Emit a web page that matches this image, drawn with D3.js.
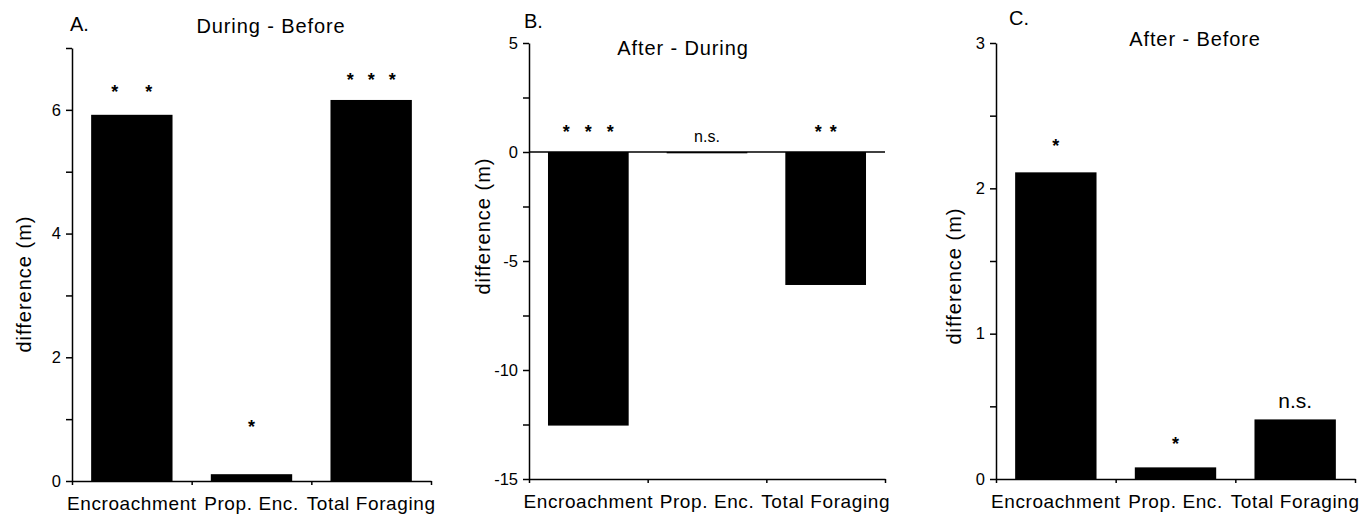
<!DOCTYPE html>
<html>
<head>
<meta charset="utf-8">
<script src="https://cdn.jsdelivr.net/npm/d3@7"></script>
<style>
  body { margin: 0; background: #fff; }
  svg { display: block; font-family: "Liberation Sans", Arial, Helvetica, sans-serif; }
</style>
</head>
<body>
<div class="graph"></div>
<script>
(() => {
// data
var categories = ['Encroachment', 'Prop. Enc.', 'Total Foraging'];
var panelLetters = ['A.', 'B.', 'C.'];
var panelTitles = ['During - Before', 'After - During', 'After - Before'];

var duringBefore = [5.92, 0.11, 6.16];
var afterDuring = [-12.55, -0.06, -6.1];
var afterBefore = [2.11, 0.08, 0.41];

var sigDuringBefore = ['**', '*', '***'];
var sigAfterDuring = ['***', 'n.s.', '**'];
var sigAfterBefore = ['*', '*', 'n.s.'];
// baseline of each significance mark, in data units
var sigYDuringBefore = [6.19, 0.77, 6.38];
var sigYAfterDuring = [0.65, 0.46, 0.65];
var sigYAfterBefore = [2.25, 0.2, 0.49];

var yDomains = [[0, 7], [-15, 5], [0, 3]];
var yTickLabels = [[0, 2, 4, 6], [-15, -10, -5, 0, 5], [0, 1, 2, 3]];
var yTickSteps = [1, 2.5, 0.5];

// layout of each panel (pixels)
var layout = [
    {x0: 72, x1: 431, top: 48, bottom: 481, letterX: 70, letterY: 31, titleX: 271, titleY: 33,
     ylabX: 31, ylabY: 284, starGap: [34, 0, 21], nsSize: 16},
    {x0: 529, x1: 885, top: 43, bottom: 479, letterX: 524, letterY: 28, titleX: 683, titleY: 55,
     ylabX: 490, ylabY: 226, starGap: [22, 0, 15], nsSize: 16},
    {x0: 996, x1: 1355, top: 43, bottom: 479, letterX: 1009, letterY: 25, titleX: 1195, titleY: 46,
     ylabX: 961, ylabY: 276, starGap: [0, 0, 0], nsSize: 21}
];

var values = [duringBefore, afterDuring, afterBefore];
var sigs = [sigDuringBefore, sigAfterDuring, sigAfterBefore];
var sigYs = [sigYDuringBefore, sigYAfterDuring, sigYAfterBefore];

var width = 1359, height = 516;

var svg = d3.select('div.graph')
    .append('svg')
        .attr('width', width)
        .attr('height', height);

layout.forEach((L, p) => {
    var g = svg.append('g');

    var y = d3.scaleLinear()
        .domain(yDomains[p])
        .range([L.bottom, L.top]);
    var x = d3.scaleBand()
        .domain(categories)
        .range([L.x0, L.x1]);
    var xTicks = d3.scaleLinear()
        .domain([0, 3])
        .range([L.x0, L.x1]);

    // bars
    var barW = x.bandwidth() * 0.68;
    g.selectAll('rect')
        .data(values[p])
        .enter()
        .append('rect')
            .attr('x', (d, i) => x(categories[i]) + (x.bandwidth() - barW) / 2)
            .attr('y', (d) => y(Math.max(0, d)))
            .attr('width', barW)
            .attr('height', (d) => Math.abs(y(d) - y(0)))
            .style('fill', '#000');

    // y axis
    var ticks = d3.range(yDomains[p][0], yDomains[p][1] + 1e-9, yTickSteps[p]);
    var yAxis = g.append('g')
        .attr('transform', 'translate(' + L.x0 + ',0)')
        .call(d3.axisLeft(y)
            .tickValues(ticks)
            .tickFormat((d) => yTickLabels[p].indexOf(d) >= 0 ? String(d) : '')
            .tickSizeInner(6)
            .tickSizeOuter(0)
            .tickPadding(5));
    yAxis.attr('font-family', null).attr('font-size', 16.5);
    yAxis.selectAll('path, line').style('stroke', '#000').style('stroke-width', 1.5);
    yAxis.selectAll('text').style('fill', '#000');

    // x axis
    var xAxis = g.append('g')
        .attr('transform', 'translate(0,' + L.bottom + ')')
        .call(d3.axisBottom(xTicks)
            .tickValues([0, 1, 2, 3])
            .tickFormat('')
            .tickSizeInner(4)
            .tickSizeOuter(0));
    xAxis.selectAll('path, line').style('stroke', '#000').style('stroke-width', 1.5);

    // zero line when the domain crosses zero
    if (yDomains[p][0] < 0) {
        g.append('line')
            .attr('x1', L.x0)
            .attr('x2', L.x1)
            .attr('y1', y(0))
            .attr('y2', y(0))
            .style('stroke', '#000')
            .style('stroke-width', 1.5);
    }

    // category labels
    g.selectAll('text.cat')
        .data(categories)
        .enter()
        .append('text')
            .attr('class', 'cat')
            .attr('x', (d) => x(d) + x.bandwidth() / 2)
            .attr('y', L.bottom + 29)
            .attr('text-anchor', 'middle')
            .style('font-size', '19px')
            .style('letter-spacing', '0.6px')
            .text((d) => d);

    // significance marks
    sigs[p].forEach((s, i) => {
        var cx = x(categories[i]) + x.bandwidth() / 2;
        var by = y(sigYs[p][i]);
        if (s === 'n.s.') {
            g.append('text')
                .attr('x', cx)
                .attr('y', by)
                .attr('text-anchor', 'middle')
                .style('font-size', L.nsSize + 'px')
                .text(s);
        } else {
            var n = s.length;
            d3.range(n).forEach((k) => {
                g.append('text')
                    .attr('x', cx + (k - (n - 1) / 2) * L.starGap[i])
                    .attr('y', by)
                    .attr('text-anchor', 'middle')
                    .style('font-size', '18px')
                    .style('font-weight', 'bold')
                    .text('*');
            });
        }
    });

    // panel letter and title
    g.append('text')
        .attr('x', L.letterX)
        .attr('y', L.letterY)
        .style('font-size', '20px')
        .text(panelLetters[p]);
    g.append('text')
        .attr('x', L.titleX)
        .attr('y', L.titleY)
        .attr('text-anchor', 'middle')
        .style('font-size', '20px')
        .style('letter-spacing', '0.9px')
        .text(panelTitles[p]);

    // y label
    g.append('text')
        .attr('transform', 'translate(' + L.ylabX + ',' + L.ylabY + ') rotate(-90)')
        .attr('text-anchor', 'middle')
        .style('font-size', '20px')
        .style('letter-spacing', '1px')
        .text('difference (m)');
});
})();
</script>
</body>
</html>
